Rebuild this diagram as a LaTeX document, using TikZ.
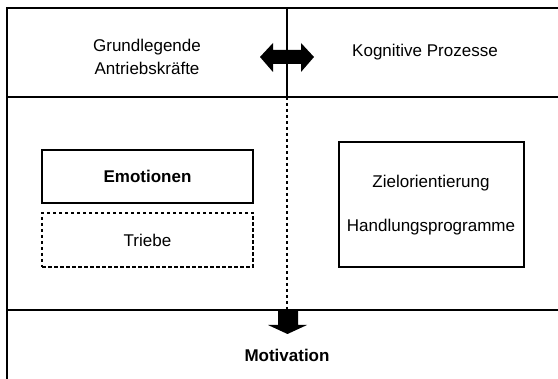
\documentclass[tikz,border=0pt]{standalone}
\usepackage{fontspec}
\setmainfont{Liberation Sans}
\begin{document}
\begin{tikzpicture}[x=1pt,y=-1pt,
  lbl/.style={font=\fontsize{17}{23}\selectfont, align=center, inner sep=0pt},
  bx/.style={draw, line width=1.3pt, minimum width=211pt, minimum height=53pt, inner sep=0pt},
  ln/.style={line width=1.4pt}]
\useasboundingbox (0,0) rectangle (558,379);
% frame lines
\draw[ln] (7,379) -- (7,8) -- (558,8);
\draw[ln] (7,97) -- (558,97);
\draw[ln] (7,310) -- (558,310);
\draw[ln] (287,8) -- (287,97);
\draw[line width=1.1pt, dash pattern=on 3.5pt off 2.5pt] (287,97) -- (287,310);
% top labels
\node[lbl] (ga) at (147,57) {Grundlegende\\Antriebskräfte};
\node[lbl] (kp) at (425,52) {Kognitive Prozesse};
% double arrow
\fill (260,57) -- (273,43) -- (273,50) -- (301,50) -- (301,43) -- (314,57) -- (301,72) -- (301,64) -- (273,64) -- (273,72) -- cycle;
% boxes
\node[bx] (emo) at (147.5,176.5) {};
\node[lbl, font=\fontsize{17}{20}\selectfont\bfseries] at (emo) {Emotionen};
\node[bx, dash pattern=on 3.5pt off 2.5pt, minimum height=54pt] (tr) at (147.5,240) {};
\node[lbl] at (tr) {Triebe};
\node[draw, line width=1.3pt, minimum width=185pt, minimum height=125pt, inner sep=0pt] (rb) at (431.5,204.5) {};
\node[lbl] (zo) at (431,183) {Zielorientierung};
\node[lbl] (hp) at (431,227) {Handlungsprogramme};
% down arrow
\fill (278,310) -- (298,310) -- (298,325) -- (307,325) -- (287.5,334) -- (268,325) -- (278,325) -- cycle;
\node[lbl, font=\fontsize{17}{20}\selectfont\bfseries] (mot) at (287,355) {Motivation};
\end{tikzpicture}
\end{document}
